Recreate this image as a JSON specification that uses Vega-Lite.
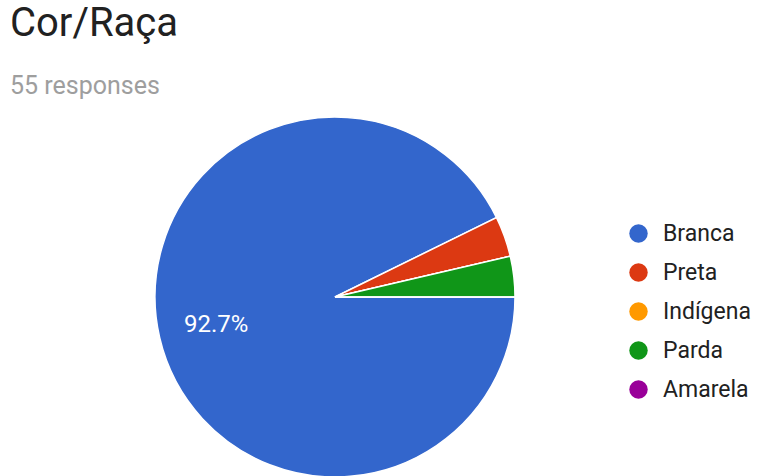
{
  "$schema": "https://vega.github.io/schema/vega-lite/v6.json",
  "width": 650,
  "height": 358,
  "autosize": "none",
  "padding": {"left": 10, "top": 118, "right": 97, "bottom": 0},
  "background": "white",
  "title": {
    "text": "Cor/Raça",
    "subtitle": "55 responses",
    "anchor": "start",
    "frame": "group",
    "font": "Roboto",
    "fontSize": 40,
    "fontWeight": "normal",
    "color": "#212121",
    "subtitleFont": "Roboto",
    "subtitleFontSize": 25,
    "subtitleColor": "#9e9e9e",
    "subtitlePadding": 30,
    "offset": 15
  },
  "data": {
    "values": [
      {"cor": "Branca", "n": 51, "label": "92.7%", "ord": 1},
      {"cor": "Preta", "n": 2, "label": "", "ord": 2},
      {"cor": "Indígena", "n": 0, "label": "", "ord": 3},
      {"cor": "Parda", "n": 2, "label": "", "ord": 4},
      {"cor": "Amarela", "n": 0, "label": "", "ord": 5}
    ]
  },
  "encoding": {
    "theta": {"field": "n", "type": "quantitative", "stack": true, "scale": {"range": [1.5707963, 7.8539816]}},
    "order": {"field": "ord", "type": "quantitative"}
  },
  "layer": [
    {
      "mark": {"type": "arc", "outerRadius": 180, "stroke": "white", "strokeWidth": 1.5},
      "encoding": {
        "color": {
          "field": "cor",
          "type": "nominal",
          "sort": ["Branca", "Preta", "Indígena", "Parda", "Amarela"],
          "scale": {
            "domain": ["Branca", "Preta", "Indígena", "Parda", "Amarela"],
            "range": ["#3366cc", "#dc3912", "#ff9900", "#109618", "#990099"]
          },
          "legend": {
            "title": null,
            "orient": "none",
            "legendX": 617,
            "legendY": 104,
            "symbolType": "circle",
            "symbolSize": 340,
            "symbolStrokeWidth": 0,
            "labelFont": "Roboto",
            "labelFontSize": 23,
            "labelColor": "#212121",
            "rowPadding": 15,
            "labelOffset": 13
          }
        }
      }
    },
    {
      "mark": {"type": "text", "radius": 122, "font": "Roboto", "fontSize": 24, "color": "white", "align": "center", "baseline": "middle"},
      "encoding": {"text": {"field": "label"}}
    }
  ],
  "config": {"view": {"stroke": null}}
}
